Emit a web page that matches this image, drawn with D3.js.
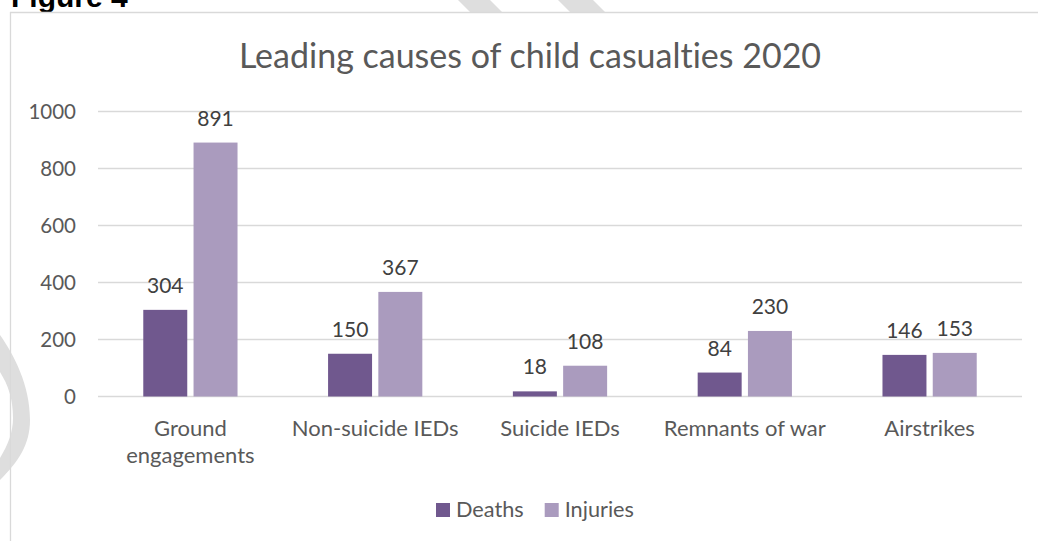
<!DOCTYPE html>
<html>
<head>
<meta charset="utf-8">
<script src="https://cdn.jsdelivr.net/npm/d3@7"></script>
<style>
  html, body { margin: 0; padding: 0; background: #ffffff; }
  svg { display: block; }
  text { font-variant-ligatures: none; font-feature-settings: "liga" 0; }
</style>
</head>
<body>
<svg id="chart" width="1038" height="541"></svg>
<script>
// ---- data ----
const categories = ["Ground engagements", "Non-suicide IEDs", "Suicide IEDs", "Remnants of war", "Airstrikes"];
const categoryLines = [["Ground", "engagements"], ["Non-suicide IEDs"], ["Suicide IEDs"], ["Remnants of war"], ["Airstrikes"]];
const seriesNames = ["Deaths", "Injuries"];
const deaths = [304, 150, 18, 84, 146];
const injuries = [891, 367, 108, 230, 153];
const yTicks = [0, 200, 400, 600, 800, 1000];
const title = "Leading causes of child casualties 2020";
const figureLabel = "Figure 4";

const colors = { Deaths: "#70588e", Injuries: "#aa9bbe" };
const seriesValues = { Deaths: deaths, Injuries: injuries };

const svg = d3.select("#chart");
const font = "Lato, 'Open Sans', sans-serif";

// ---- watermark (light grey) ----
const wm = svg.append("g").attr("fill", "#dedede");
[[458, 490], [558, 593]].forEach(([a, b]) => {
  wm.append("polygon").attr("points", `${a},0 ${b},0 ${b + 12},12 ${a + 12},12`);
});
wm.append("path")
  .attr("d", "M0,335 C14,355 30,385 30,420 C30,445 18,462 0,480 L0,458 C8,445 13,432 13,418 C13,398 8,385 0,372 Z");

// ---- figure label ----
svg.append("text")
  .attr("x", 11).attr("y", 7)
  .attr("font-family", "'Liberation Sans', Arial, sans-serif")
  .attr("font-weight", "bold").attr("font-size", 30)
  .attr("fill", "#000")
  .text(figureLabel);

// ---- chart frame ----
svg.append("line").attr("x1", 10).attr("x2", 1038).attr("y1", 12.5).attr("y2", 12.5)
  .attr("stroke", "#d9d9d9").attr("stroke-width", 1.3);
svg.append("line").attr("x1", 10.5).attr("x2", 10.5).attr("y1", 12).attr("y2", 541)
  .attr("stroke", "#d9d9d9").attr("stroke-width", 1.3);

// ---- scales ----
const x = d3.scaleBand().domain(categories).range([98, 1022]).paddingInner(0).paddingOuter(0);
const bw = x.bandwidth();
const xs = d3.scaleBand().domain(seriesNames)
  .range([bw * 0.245, bw * (1 - 0.245)]).paddingInner(0.125).paddingOuter(0);
const y = d3.scaleLinear().domain([0, 1000]).range([396.5, 111.5]);

// ---- gridlines ----
const grid = svg.append("g");
grid.selectAll("line").data(yTicks).join("line")
  .attr("x1", 98).attr("x2", 1022)
  .attr("y1", d => y(d)).attr("y2", d => y(d))
  .attr("stroke", "#d9d9d9").attr("stroke-width", 1.3);

// ---- y axis labels ----
const yAxis = d3.axisLeft(y).tickValues(yTicks).tickSize(0).tickPadding(0).tickFormat(d3.format("d"));
const yg = svg.append("g").attr("transform", "translate(76,0)").call(yAxis);
yg.select(".domain").remove();
yg.selectAll("text").attr("font-family", font).attr("font-size", 20.5).attr("fill", "#595959").attr("dy", "0.35em");

// ---- bars ----
const rows = [];
categories.forEach((c, i) => seriesNames.forEach(s => rows.push({ c, s, v: seriesValues[s][i] })));
svg.append("g").selectAll("rect").data(rows).join("rect")
  .attr("x", d => x(d.c) + xs(d.s))
  .attr("width", xs.bandwidth())
  .attr("y", d => y(d.v))
  .attr("height", d => y(0) - y(d.v))
  .attr("fill", d => colors[d.s]);

// ---- value labels ----
svg.append("g").selectAll("text").data(rows).join("text")
  .attr("x", d => x(d.c) + xs(d.s) + xs.bandwidth() / 2)
  .attr("y", d => y(d.v) - 17)
  .attr("text-anchor", "middle")
  .attr("font-family", font).attr("font-size", 21).attr("fill", "#404040")
  .text(d => d.v);

// ---- category labels ----
const cg = svg.append("g");
categories.forEach((c, i) => {
  const t = cg.append("text")
    .attr("x", x(c) + bw / 2).attr("y", 436)
    .attr("text-anchor", "middle")
    .attr("font-family", font).attr("font-size", 22).attr("fill", "#595959");
  categoryLines[i].forEach((ln, j) => {
    t.append("tspan").attr("x", x(c) + bw / 2).attr("dy", j === 0 ? 0 : 27).text(ln);
  });
});

// ---- title ----
svg.append("text")
  .attr("x", 530).attr("y", 68)
  .attr("text-anchor", "middle")
  .attr("font-family", font).attr("font-size", 34).attr("fill", "#595959")
  .text(title);

// ---- legend ----
const lg = svg.append("g");
let lx = 436;
seriesNames.forEach(s => {
  lg.append("rect").attr("x", lx).attr("y", 503).attr("width", 14).attr("height", 14).attr("fill", colors[s]);
  const t = lg.append("text").attr("x", lx + 20).attr("y", 517)
    .attr("font-family", font).attr("font-size", 21.7).attr("fill", "#595959").text(s);
  lx += 20 + t.node().getComputedTextLength() + 21;
});
</script>
</body>
</html>
